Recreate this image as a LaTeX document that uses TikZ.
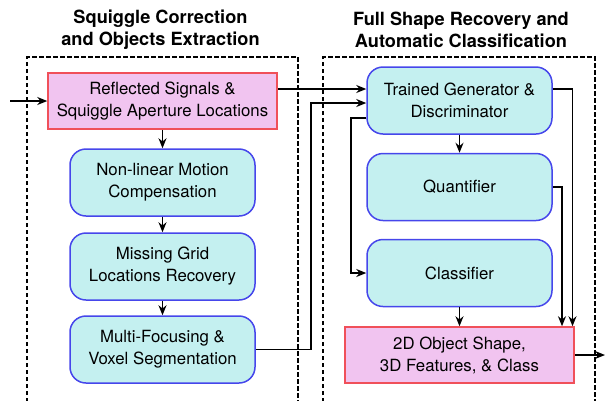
\documentclass[tikz,border=0pt]{standalone}
\usepackage{fontspec}
\setmainfont{TeX Gyre Heros}
\usetikzlibrary{arrows.meta}
\definecolor{pinkfill}{RGB}{241,196,240}
\definecolor{pinkdraw}{RGB}{240,80,90}
\definecolor{cyanfill}{RGB}{196,240,240}
\definecolor{bluedraw}{RGB}{70,70,235}
\tikzset{
  pinkbox/.style={draw=pinkdraw, fill=pinkfill, line width=1.5pt, minimum width=229pt, minimum height=56pt, align=center, inner sep=0pt, font=\fontsize{16.8}{22}\selectfont},
  bluebox/.style={draw=bluedraw, fill=cyanfill, line width=1.5pt, rounded corners=16pt, minimum width=185pt, minimum height=67pt, align=center, inner sep=0pt, font=\fontsize{16.8}{22}\selectfont},
  titletext/.style={align=center, font=\fontsize{18.2}{22}\selectfont\bfseries},
  dashbox/.style={dash pattern=on 4.5pt off 2.5pt, line width=1.4pt},
  arr/.style={-{Stealth[length=10pt,width=8pt]}, line width=1.6pt},
}
\begin{document}
\begin{tikzpicture}[x=1pt,y=-1pt]
\useasboundingbox (0,0) rectangle (605,400);
% titles
\node[titletext] (t1) at (160.5,30) {Squiggle Correction\\and Objects Extraction};
\node[titletext] (t2) at (461,30) {Full Shape Recovery and\\Automatic Classification};
% dashed group frames
\draw[dashbox] (27,402) -- (27,57) -- (298,57) -- (298,402);
\draw[dashbox] (323,402) -- (323,57) -- (595,57) -- (595,402);
% left column
\node[pinkbox] (p1) at (162.5,101) {Reflected Signals \&\\Squiggle Aperture Locations};
\node[bluebox] (b1) at (162.5,182.5) {Non-linear Motion\\Compensation};
\node[bluebox] (b2) at (162.5,266.5) {Missing Grid\\Locations Recovery};
\node[bluebox] (b3) at (162.5,349.5) {Multi-Focusing \&\\Voxel Segmentation};
% right column
\node[bluebox] (tg) at (459.5,100.5) {Trained Generator \&\\Discriminator};
\node[bluebox] (q) at (459.5,187) {Quantifier};
\node[bluebox] (c) at (459.5,273) {Classifier};
\node[pinkbox] (o) at (459.5,355) {2D Object Shape,\\3D Features, \& Class};
% connectors
\coordinate (in) at (10,101);
\coordinate (outend) at (605,355);
\draw[arr] (in) -- (p1.west);
\draw[arr] (p1.south) -- (b1.north);
\draw[arr] (b1.south) -- (b2.north);
\draw[arr] (b2.south) -- (b3.north);
\draw[arr] ([yshift=12pt]p1.east) -- ([yshift=12pt]p1.east -| tg.west);
\draw[arr] (b3.east) -- (311,349.5) -- (311,103) -- (tg.west |- 311,103);
\draw[arr] ([yshift=-17.5pt]tg.west) -- (351,118) |- (c.west);
\draw[arr] ([yshift=11.5pt]tg.east) -| ([xshift=113pt]o.north);
\draw[arr] (q.east) -| ([xshift=102.5pt]o.north);
\draw[arr] (tg.south) -- (q.north);
\draw[arr] (c.south) -- (o.north);
\draw[arr] (o.east) -- (outend);
\end{tikzpicture}
\end{document}
